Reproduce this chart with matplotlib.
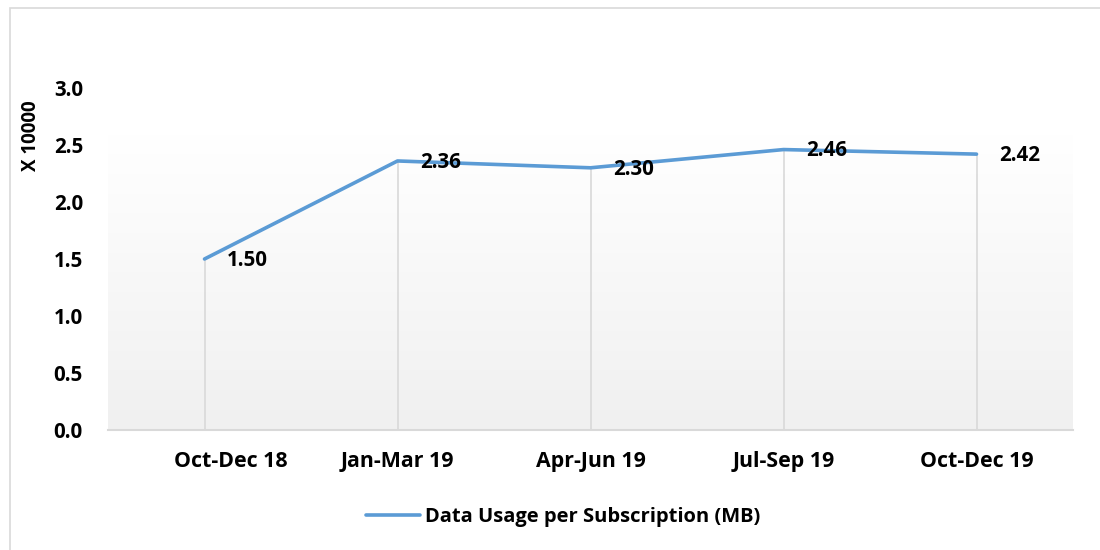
import numpy as np
import matplotlib.pyplot as plt
import matplotlib.transforms as mtransforms
from matplotlib.patches import Rectangle
from matplotlib.colors import LinearSegmentedColormap

quarters = ["Oct-Dec 18", "Jan-Mar 19", "Apr-Jun 19", "Jul-Sep 19", "Oct-Dec 19"]
usage = [1.50, 2.36, 2.30, 2.46, 2.42]  # x 10000 MB
yticks = [0.0, 0.5, 1.0, 1.5, 2.0, 2.5, 3.0]

plt.rcParams['font.family'] = ['Open Sans', 'DejaVu Sans']

fig = plt.figure(figsize=(11, 5.5), dpi=100)
ax = fig.add_axes([108 / 1100, 120 / 550, 965 / 1100, 342 / 550])

x = np.arange(len(quarters))

# plot-area gradient (white -> light grey)
grad = np.linspace(0, 1, 256).reshape(-1, 1)
cmap = LinearSegmentedColormap.from_list("g", ["#f0f0f0", "#ffffff"])
ax.imshow(grad, cmap=cmap, aspect='auto', origin='lower',
          extent=[-0.5, len(quarters) - 0.5, 0, 2.59], zorder=0)

# drop lines
ax.vlines(x, 0, usage, color="#d9d9d9", lw=1.2, zorder=1)
ax.plot(x, usage, color="#5b9bd5", lw=2.6, solid_capstyle='round',
        label="Data Usage per Subscription (MB)", zorder=3)

FS = 14.8
for xi, v in zip(x, usage):
    ax.annotate(f"{v:.2f}", (xi, v), xytext=(16, -1), textcoords='offset points',
                ha='left', va='center', fontsize=FS, fontweight='bold', zorder=4)

ax.set_xlim(-0.5, len(quarters) - 0.5)
ax.set_ylim(0, 3.0)
ax.set_yticks(yticks)
ax.set_yticklabels([f"{t:.1f}" for t in yticks])
ax.set_xticks(x)
ax.set_xticklabels(quarters)
ax.tick_params(length=0, labelsize=FS)
ax.tick_params(axis='x', labelsize=15.4)
for lab in ax.get_xticklabels() + ax.get_yticklabels():
    lab.set_fontweight('bold')
ax.tick_params(axis='y', pad=18)
ax.tick_params(axis='x', pad=15)

# first category label sits a bit right of its point in the original
first = ax.get_xticklabels()[0]
first.set_transform(first.get_transform() +
                    mtransforms.ScaledTranslation(26 / 100, 0, fig.dpi_scale_trans))

for s in ['top', 'right', 'left']:
    ax.spines[s].set_visible(False)
ax.spines['bottom'].set_color("#d9d9d9")
ax.spines['bottom'].set_linewidth(1.5)
ax.set_facecolor('none')

fig.text(31 / 1100, 1 - 136 / 550, "X 10000", rotation=90, ha='center', va='center',
         fontsize=13.5, fontweight='bold')

leg = fig.legend(loc='center', bbox_to_anchor=(563 / 1100, 33 / 550), frameon=False,
                 prop={'size': 14.5, 'weight': 'bold'}, handlelength=2.7, handletextpad=0.25)

# chart border
fig.patches.append(Rectangle((10 / 1100, -0.1), 2, 1 - 8 / 550 + 0.1, transform=fig.transFigure,
                             fill=False, edgecolor="#d9d9d9", lw=1.2))

fig.savefig("out.png", dpi=100)
